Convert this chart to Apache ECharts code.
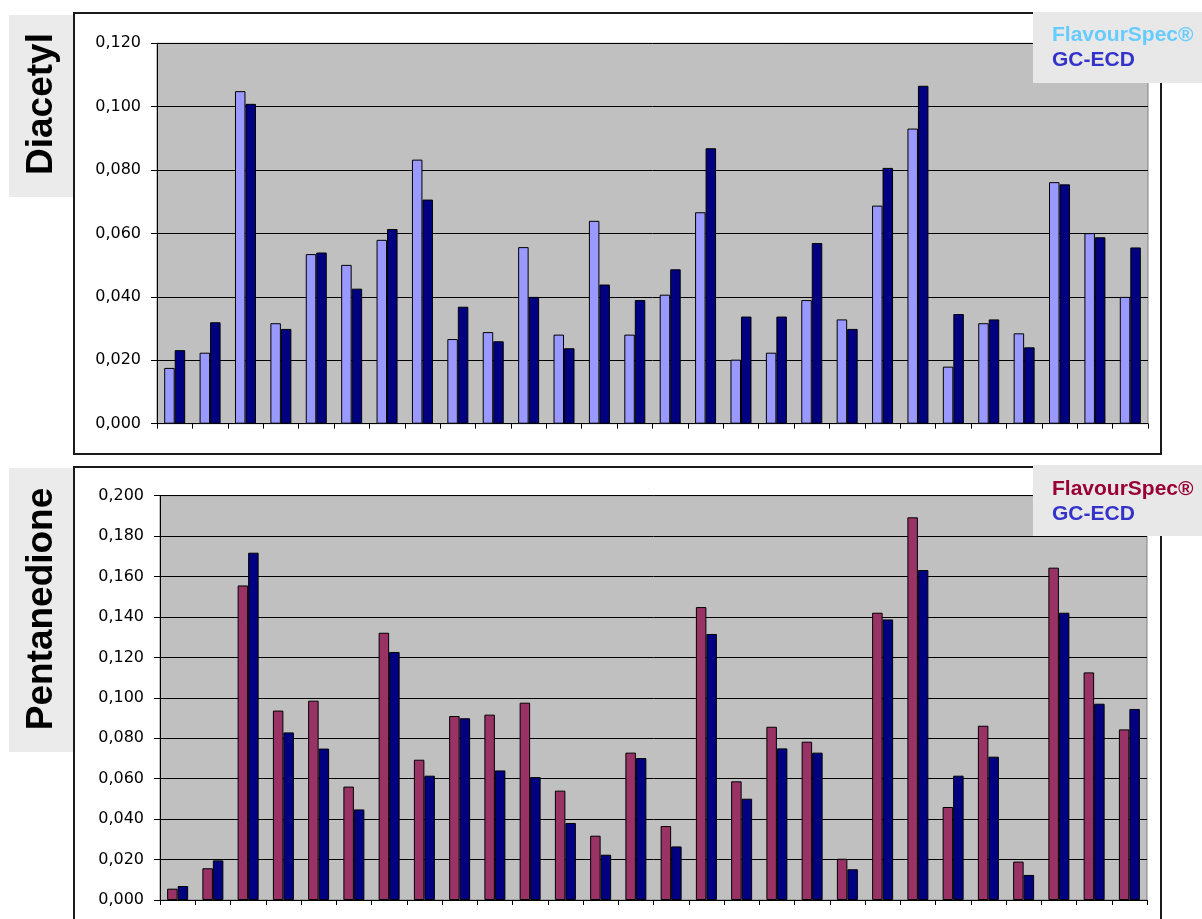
<!DOCTYPE html>
<html>
<head>
<meta charset="utf-8">
<script src="https://cdn.jsdelivr.net/npm/echarts@6/dist/echarts.min.js"></script>
<style>
html,body{margin:0;padding:0;background:#fff;}
#chart{width:1202px;height:919px;}
</style>
</head>
<body>
<div id="chart"></div>
<script>
// ---- data ----
const categories = ['1','2','3','4','5','6','7','8','9','10','11','12','13','14','15','16','17','18','19','20','21','22','23','24','25','26','27','28'];

const diacetylFlavourSpec = [0.0176,0.0224,0.1049,0.0317,0.0535,0.0501,0.0580,0.0833,0.0267,0.0289,0.0557,0.0281,0.0640,0.0281,0.0407,0.0667,0.0202,0.0224,0.0390,0.0329,0.0688,0.0931,0.0180,0.0317,0.0285,0.0762,0.0601,0.0400];
const diacetylGCECD       = [0.0232,0.0320,0.1009,0.0299,0.0540,0.0426,0.0614,0.0707,0.0369,0.0260,0.0400,0.0238,0.0439,0.0390,0.0487,0.0869,0.0338,0.0338,0.0570,0.0299,0.0807,0.1066,0.0346,0.0329,0.0241,0.0755,0.0588,0.0556];

const pentanedioneFlavourSpec = [0.0056,0.0157,0.1556,0.0937,0.0986,0.0561,0.1322,0.0694,0.0910,0.0917,0.0976,0.0541,0.0318,0.0729,0.0366,0.1449,0.0587,0.0857,0.0783,0.0204,0.1421,0.1893,0.0460,0.0862,0.0190,0.1644,0.1126,0.0844];
const pentanedioneGCECD       = [0.0069,0.0196,0.1718,0.0829,0.0749,0.0448,0.1227,0.0615,0.0899,0.0641,0.0608,0.0381,0.0224,0.0702,0.0265,0.1316,0.0501,0.0750,0.0729,0.0152,0.1388,0.1632,0.0615,0.0709,0.0124,0.1421,0.0971,0.0945];

const diacetylTicks     = ['0,000','0,020','0,040','0,060','0,080','0,100','0,120'];
const pentanedioneTicks = ['0,000','0,020','0,040','0,060','0,080','0,100','0,120','0,140','0,160','0,180','0,200'];

const seriesNames = ['FlavourSpec®','GC-ECD'];
const panelTitles = ['Diacetyl','Pentanedione'];

// ---- chart ----
const chart = echarts.init(document.getElementById('chart'), null, {renderer:'canvas'});

const labelFont = {fontFamily:'DejaVu Sans', fontSize:16, color:'#000'};

function xAxisCfg(gridIndex){
  return {
    type:'category', gridIndex, data:categories,
    boundaryGap:true,
    axisLine:{show:true, lineStyle:{color:'#000', width:1}},
    axisTick:{show:true, length:5, inside:false, lineStyle:{color:'#000'}},
    axisLabel:{show:false},
    splitLine:{show:false}
  };
}
function yAxisCfg(gridIndex, max, ticks){
  return {
    type:'value', gridIndex, min:0, max:max, interval:0.02,
    axisLine:{show:true, lineStyle:{color:'#000', width:1}},
    axisTick:{show:true, length:6, lineStyle:{color:'#000'}},
    axisLabel:Object.assign({margin:16, formatter:v => ticks[Math.round(v/0.02)]}, labelFont),
    splitLine:{show:true, lineStyle:{color:'#000', width:1}}
  };
}
function barSeries(name, data, color, idx){
  return {
    name, type:'bar', data, xAxisIndex:idx, yAxisIndex:idx,
    barWidth:10.5, barGap:'0%',
    itemStyle:{color, borderColor:'#000', borderWidth:1},
    emphasis:{disabled:true},
    animation:false
  };
}

const option = {
  animation:false,
  backgroundColor:'#ffffff',
  grid:[
    {left:157, top:43.3, width:991, height:380.4, show:true, backgroundColor:'#c0c0c0', borderColor:'#808080', borderWidth:1, containLabel:false},
    {left:160, top:495.7, width:987, height:404.3, show:true, backgroundColor:'#c0c0c0', borderColor:'#808080', borderWidth:1, containLabel:false}
  ],
  xAxis:[xAxisCfg(0), xAxisCfg(1)],
  yAxis:[yAxisCfg(0, 0.12, diacetylTicks), yAxisCfg(1, 0.2, pentanedioneTicks)],
  legend:[
    {
      orient:'vertical', left:1047, top:22.5, padding:0, itemGap:0, itemWidth:0, itemHeight:14,
      icon:'none', selectedMode:false, z:20,
      textStyle:{fontFamily:'Liberation Sans', fontWeight:'bold', fontSize:21, lineHeight:25},
      data:[
        {name:seriesNames[0], textStyle:{color:'#66ccff'}},
        {name:seriesNames[1], textStyle:{color:'#3333cc'}}
      ]
    },
    {
      orient:'vertical', left:1047, top:476.5, padding:0, itemGap:0, itemWidth:0, itemHeight:14,
      icon:'none', selectedMode:false, z:20,
      textStyle:{fontFamily:'Liberation Sans', fontWeight:'bold', fontSize:21, lineHeight:25},
      data:[
        {name:seriesNames[0], textStyle:{color:'#990033'}},
        {name:seriesNames[1], textStyle:{color:'#3333cc'}}
      ]
    }
  ],
  series:[
    barSeries(seriesNames[0], diacetylFlavourSpec, '#9999ff', 0),
    barSeries(seriesNames[1], diacetylGCECD, '#000080', 0),
    barSeries(seriesNames[0], pentanedioneFlavourSpec, '#993366', 1),
    barSeries(seriesNames[1], pentanedioneGCECD, '#000080', 1)
  ],
  graphic:[
    // outer frames
    {type:'rect', z:-10, silent:true, shape:{x:74, y:13, width:1087, height:441}, style:{fill:'#fff', stroke:'#1a1a1a', lineWidth:2}},
    {type:'rect', z:-10, silent:true, shape:{x:74, y:467, width:1087, height:480}, style:{fill:'#fff', stroke:'#1a1a1a', lineWidth:2}},
    // side title boxes
    {type:'rect', z:10, silent:true, shape:{x:9, y:15, width:64, height:182}, style:{fill:'#ebebeb'}},
    {type:'rect', z:10, silent:true, shape:{x:9, y:468, width:64, height:284}, style:{fill:'#ebebeb'}},
    {type:'text', z:11, silent:true, x:42, y:104, rotation:Math.PI/2,
      style:{text:panelTitles[0], fill:'#000', font:'bold 37px "Liberation Sans", Arial, sans-serif', textAlign:'center', textVerticalAlign:'middle'}},
    {type:'text', z:11, silent:true, x:42, y:609, rotation:Math.PI/2,
      style:{text:panelTitles[1], fill:'#000', font:'bold 37px "Liberation Sans", Arial, sans-serif', textAlign:'center', textVerticalAlign:'middle'}},
    // legend boxes
    {type:'rect', z:15, silent:true, shape:{x:1033, y:12, width:169, height:71}, style:{fill:'#e8e8e8'}},
    {type:'rect', z:15, silent:true, shape:{x:1033, y:465, width:169, height:71}, style:{fill:'#e8e8e8'}}
  ]
};
chart.setOption(option);
</script>
</body>
</html>
